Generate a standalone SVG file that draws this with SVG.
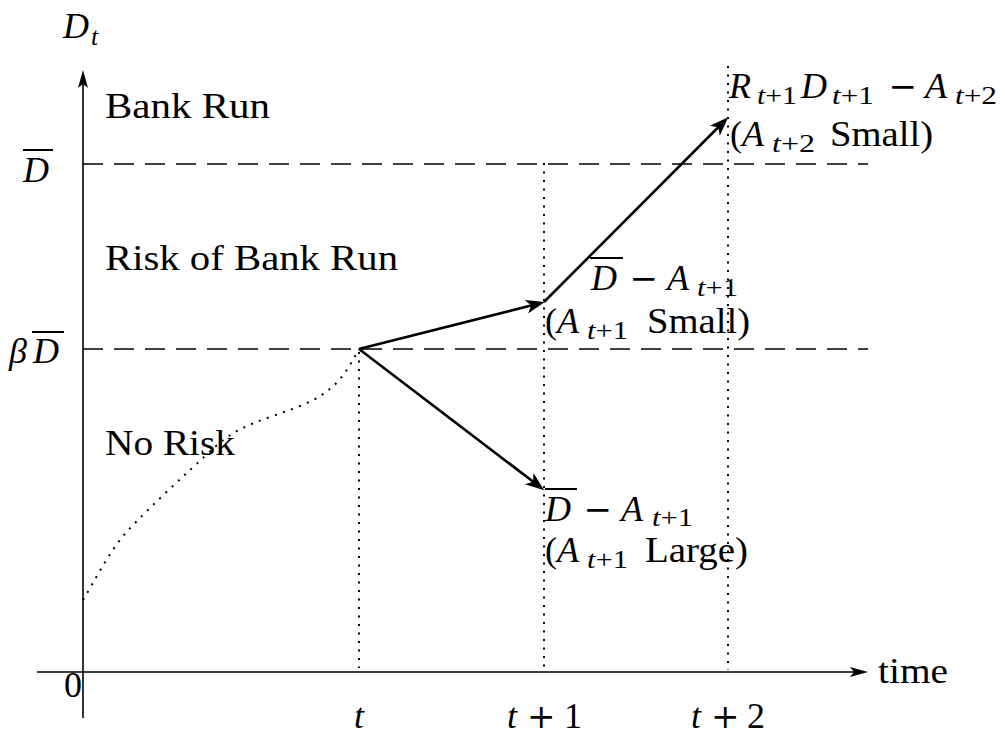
<svg xmlns="http://www.w3.org/2000/svg" width="1005" height="740" viewBox="0 0 1005 740">
<defs>
<style>
.rm{font-family:"Liberation Serif",serif;font-size:36px;fill:#000}
.it{font-family:"Liberation Serif",serif;font-style:italic;font-size:36px;fill:#000}
.sub{font-family:"Liberation Serif",serif;font-size:25px;fill:#000}
.subi{font-family:"Liberation Serif",serif;font-style:italic;font-size:26px}
.op{font-family:"DejaVu Serif",serif;font-size:34px;fill:#000}
.axis{stroke:#000;stroke-width:1.6;fill:none}
.dash{stroke:#000;stroke-width:1.6;stroke-dasharray:20 11;fill:none}
.dot{stroke:#000;stroke-width:2;stroke-dasharray:2 6.5;fill:none}
.arr{stroke:#000;stroke-width:2.6;fill:none}
.bar{stroke:#000;stroke-width:2}
</style>
<marker id="ah" viewBox="-14 -8 22 16" refX="0" refY="0" markerWidth="22" markerHeight="16" markerUnits="userSpaceOnUse" orient="auto">
<path d="M6,0 L-13,-7 L-8,0 L-13,7 Z" fill="#000"/>
</marker>
<marker id="axh" viewBox="-16 -6 22 12" refX="0" refY="0" markerWidth="22" markerHeight="12" markerUnits="userSpaceOnUse" orient="auto">
<path d="M4,0 L-14,-5 L-10,0 L-14,5 Z" fill="#000"/>
</marker>
</defs>
<rect width="1005" height="740" fill="#fff"/>

<g id="axes">
<line class="axis" x1="83" y1="718" x2="83" y2="74" marker-end="url(#axh)"/>
<line class="axis" x1="37" y1="672" x2="864" y2="672" marker-end="url(#axh)"/>
</g>

<g id="guides">
<line class="dash" x1="83" y1="164" x2="868" y2="164"/>
<line class="dash" x1="83" y1="349" x2="868" y2="349"/>
<line class="dot" x1="359" y1="352" x2="359" y2="668"/>
<line class="dot" x1="544" y1="163" x2="544" y2="668"/>
<line class="dot" x1="728" y1="66" x2="728" y2="670"/>
<path class="dot" d="M83,600 C95,580 105,560 120,540 S190,470 215,447 S265,420 300,406 S345,375 359,349"/>
</g>

<g id="connectors">
<line class="arr" x1="359" y1="349" x2="539" y2="303.5" marker-end="url(#ah)"/>
<line class="arr" x1="544" y1="302" x2="724" y2="121.5" marker-end="url(#ah)"/>
<line class="arr" x1="359" y1="349" x2="539.5" y2="486.5" marker-end="url(#ah)"/>
</g>

<g id="axis-labels">
<text class="it" x="63" y="38">D</text><text class="subi" x="91" y="45">t</text>
<text class="it" x="23" y="182">D</text><line class="bar" x1="23" y1="150" x2="53" y2="150"/>
<text class="it" x="9" y="363">β</text><text class="it" x="33" y="363">D</text><line class="bar" x1="32" y1="332" x2="64" y2="332"/>
<text class="rm" x="64" y="697">0</text>
<text class="it" x="354" y="728">t</text>
<text class="it" x="507" y="728">t</text><text class="op" x="527" y="728">+</text><text class="rm" x="564" y="728">1</text>
<text class="it" x="691" y="728">t</text><text class="op" x="711" y="728">+</text><text class="rm" x="747" y="728">2</text>
<text class="rm" x="878" y="683" textLength="70" lengthAdjust="spacingAndGlyphs">time</text>
</g>

<g id="regions">
<text class="rm" x="105" y="118" textLength="165" lengthAdjust="spacingAndGlyphs">Bank Run</text>
<text class="rm" x="105" y="270" textLength="293" lengthAdjust="spacingAndGlyphs">Risk of Bank Run</text>
<text class="rm" x="105" y="455" textLength="130" lengthAdjust="spacingAndGlyphs">No Risk</text>
</g>

<g id="label-top">
<text class="it" x="729" y="98">R</text>
<text class="sub" x="757" y="104" textLength="40" lengthAdjust="spacingAndGlyphs"><tspan font-style="italic">t</tspan>+1</text>
<text class="it" x="801" y="98">D</text>
<text class="sub" x="832" y="104" textLength="42" lengthAdjust="spacingAndGlyphs"><tspan font-style="italic">t</tspan>+1</text>
<text class="op" x="888.5" y="98">−</text>
<text class="it" x="925" y="98">A</text>
<text class="sub" x="955" y="104" textLength="42" lengthAdjust="spacingAndGlyphs"><tspan font-style="italic">t</tspan>+2</text>
<text class="rm" x="730" y="146">(</text>
<text class="it" x="742" y="146">A</text>
<text class="sub" x="772" y="152" textLength="43" lengthAdjust="spacingAndGlyphs"><tspan font-style="italic">t</tspan>+2</text>
<text class="rm" x="830" y="146" textLength="103" lengthAdjust="spacingAndGlyphs">Small)</text>
</g>

<g id="label-mid">
<line class="bar" x1="590" y1="258" x2="623" y2="258"/>
<text class="it" x="591" y="290">D</text>
<text class="op" x="629.5" y="290">−</text>
<text class="it" x="667" y="290">A</text>
<text class="sub" x="697" y="296" textLength="41" lengthAdjust="spacingAndGlyphs"><tspan font-style="italic">t</tspan>+1</text>
<text class="rm" x="545" y="333">(</text>
<text class="it" x="557" y="333">A</text>
<text class="sub" x="587" y="339" textLength="41" lengthAdjust="spacingAndGlyphs"><tspan font-style="italic">t</tspan>+1</text>
<text class="rm" x="647" y="333" textLength="103" lengthAdjust="spacingAndGlyphs">Small)</text>
</g>

<g id="label-low">
<line class="bar" x1="545" y1="489" x2="577" y2="489"/>
<text class="it" x="545" y="521">D</text>
<text class="op" x="583.5" y="521">−</text>
<text class="it" x="621" y="521">A</text>
<text class="sub" x="652" y="526" textLength="41" lengthAdjust="spacingAndGlyphs"><tspan font-style="italic">t</tspan>+1</text>
<text class="rm" x="545" y="562">(</text>
<text class="it" x="557" y="562">A</text>
<text class="sub" x="587" y="568" textLength="41" lengthAdjust="spacingAndGlyphs"><tspan font-style="italic">t</tspan>+1</text>
<text class="rm" x="645" y="562" textLength="103" lengthAdjust="spacingAndGlyphs">Large)</text>
</g>
</svg>
